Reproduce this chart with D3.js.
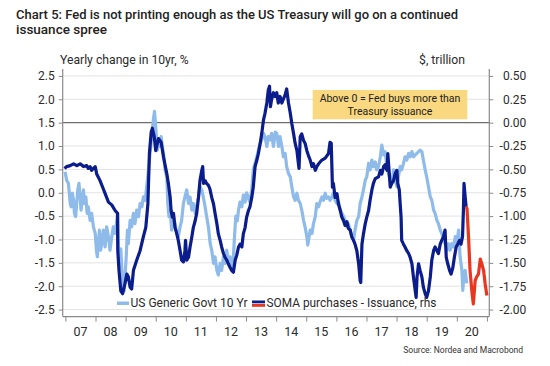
<!DOCTYPE html>
<html>
<head>
<meta charset="utf-8">
<script src="https://cdn.jsdelivr.net/npm/d3@7"></script>
<style>
  html, body { margin: 0; padding: 0; background: #fff; }
  svg { display: block; font-family: Roboto, "Open Sans", sans-serif; }
</style>
</head>
<body>
<svg id="chart" width="550" height="366"></svg>
<script>
// ---------- DATA ----------
const titleLines = ["Chart 5: Fed is not printing enough as the US Treasury will go on a continued", "issuance spree"];
const leftTitle = "Yearly change in 10yr, %";
const rightTitle = "$, trillion";
const sourceText = "Source: Nordea and Macrobond";
const noteLines = ["Above 0 = Fed buys more than", "Treasury issuance"];
const legendLabels = ["US Generic Govt 10 Yr", "SOMA purchases - Issuance, rhs"];

const yearTicks = [2007,2008,2009,2010,2011,2012,2013,2014,2015,2016,2017,2018,2019,2020,2021];
const yearLabels = ["07","08","09","10","11","12","13","14","15","16","17","18","19","20"];
const leftTicks = [2.5,2.0,1.5,1.0,0.5,0.0,-0.5,-1.0,-1.5,-2.0,-2.5];
const rightTicks = [0.5,0.25,0,-0.25,-0.5,-0.75,-1.0,-1.25,-1.5,-1.75,-2.0];

// US Generic Govt 10 Yr, yearly change (%), left axis: [year, value]
const us10y = [
[2006.99,0.45],[2007.04,0.27],[2007.10,0.20],[2007.16,-0.23],[2007.19,-0.30],[2007.23,-0.01],[2007.27,-0.16],[2007.30,-0.44],[2007.34,-0.51],[2007.38,-0.19],[2007.41,0.06],[2007.45,0.20],[2007.49,-0.09],[2007.52,-0.37],[2007.56,-0.16],[2007.60,0.06],[2007.63,-0.23],[2007.68,-0.09],[2007.72,-0.44],[2007.76,-0.30],[2007.82,-0.59],[2007.87,-0.44],[2007.93,-0.73],[2007.99,-0.87],
[2008.03,-1.23],[2008.06,-1.37],[2008.10,-1.01],[2008.13,-0.80],[2008.17,-1.23],[2008.21,-1.09],[2008.26,-0.80],[2008.32,-1.16],[2008.37,-0.73],[2008.43,-0.94],[2008.48,-1.23],[2008.54,-0.94],[2008.59,-0.73],[2008.65,-0.87],[2008.71,-0.59],[2008.74,-0.44],[2008.76,-1.20],[2008.80,-1.60],[2008.84,-1.20],[2008.88,-1.70],[2008.92,-2.00],[2008.95,-2.10],[2008.98,-1.80],
[2009.02,-1.37],[2009.06,-0.80],[2009.09,-1.09],[2009.15,-0.59],[2009.20,-0.73],[2009.26,-0.44],[2009.31,-0.66],[2009.37,-0.37],[2009.43,-0.51],[2009.48,-0.23],[2009.54,-0.30],[2009.59,-0.09],[2009.65,-0.16],[2009.70,0.13],[2009.76,0.49],[2009.81,0.84],[2009.87,1.20],[2009.92,1.56],[2009.96,1.74],
[2010.00,1.41],[2010.05,0.91],[2010.09,1.13],[2010.13,0.99],[2010.18,1.20],[2010.22,0.99],[2010.27,0.77],[2010.31,0.49],[2010.37,0.34],[2010.40,-0.23],[2010.44,-0.51],[2010.48,-0.37],[2010.53,-0.80],[2010.59,-0.51],[2010.64,-0.66],[2010.70,-0.87],[2010.75,-0.94],[2010.81,-0.73],[2010.86,-0.59],[2010.92,-0.23],[2010.97,-0.09],
[2011.03,0.06],[2011.09,-0.23],[2011.14,-0.09],[2011.20,-0.37],[2011.25,-0.23],[2011.31,-0.44],[2011.36,-0.30],[2011.42,-0.09],[2011.47,0.13],[2011.53,0.06],[2011.58,-0.09],[2011.64,-0.30],[2011.69,-0.51],[2011.75,-0.73],[2011.81,-1.09],[2011.86,-1.23],[2011.92,-1.51],[2011.97,-1.37],
[2012.03,-1.66],[2012.08,-1.76],[2012.14,-1.51],[2012.19,-1.66],[2012.25,-1.37],[2012.30,-1.51],[2012.36,-1.23],[2012.41,-1.51],[2012.47,-1.37],[2012.52,-1.59],[2012.58,-1.37],[2012.62,-0.90],[2012.66,-0.50],[2012.71,-0.60],[2012.75,-0.37],[2012.80,-0.20],[2012.86,-0.30],[2012.91,-0.05],[2012.97,-0.20],
[2013.02,0.00],[2013.08,-0.12],[2013.13,-0.20],[2013.19,0.06],[2013.24,0.49],[2013.30,0.63],[2013.36,0.77],[2013.41,0.91],[2013.47,1.06],[2013.52,1.13],[2013.58,1.27],[2013.63,1.20],[2013.69,0.99],[2013.74,1.20],[2013.80,1.13],[2013.85,1.27],[2013.91,0.99],[2013.97,1.30],
[2014.02,1.27],[2014.08,0.99],[2014.13,1.20],[2014.19,0.99],[2014.24,0.77],[2014.30,0.84],[2014.35,0.56],[2014.41,0.41],[2014.47,0.34],[2014.52,0.13],[2014.58,-0.09],[2014.63,-0.16],[2014.69,-0.01],[2014.74,-0.16],[2014.80,-0.23],[2014.85,-0.37],[2014.91,-0.59],[2014.96,-0.73],
[2015.02,-0.94],[2015.05,-1.12],[2015.13,-0.80],[2015.19,-0.87],[2015.24,-0.66],[2015.30,-0.51],[2015.35,-0.23],[2015.41,-0.30],[2015.46,-0.19],[2015.52,-0.09],[2015.57,-0.16],[2015.63,-0.01],[2015.68,-0.12],[2015.74,-0.09],[2015.79,-0.16],[2015.85,-0.09],[2015.90,-0.01],[2015.96,-0.16],
[2016.02,-0.23],[2016.07,-0.19],[2016.13,-0.37],[2016.18,-0.44],[2016.24,-0.51],[2016.29,-0.59],[2016.35,-0.73],[2016.40,-0.66],[2016.46,-0.80],[2016.51,-0.94],[2016.57,-1.01],[2016.62,-0.80],[2016.68,-0.59],[2016.74,-0.51],[2016.79,-0.23],[2016.85,-0.09],[2016.90,0.06],[2016.96,0.27],
[2017.01,0.34],[2017.07,0.63],[2017.12,0.49],[2017.18,0.70],[2017.23,0.56],[2017.29,0.66],[2017.34,0.49],[2017.40,0.56],[2017.46,0.77],[2017.51,1.02],[2017.57,0.81],[2017.62,0.88],[2017.68,0.56],[2017.73,0.41],[2017.79,0.27],[2017.84,0.20],[2017.90,0.49],[2017.95,0.27],
[2018.01,0.13],[2018.06,0.34],[2018.12,0.56],[2018.17,0.49],[2018.23,0.63],[2018.28,0.77],[2018.34,0.70],[2018.40,0.84],[2018.45,0.77],[2018.51,0.88],[2018.56,0.77],[2018.62,0.81],[2018.67,0.84],[2018.73,0.88],[2018.78,0.91],[2018.84,0.88],[2018.89,0.70],[2018.95,0.49],
[2019.00,0.34],[2019.06,0.13],[2019.12,-0.09],[2019.17,-0.16],[2019.23,-0.37],[2019.28,-0.44],[2019.34,-0.59],[2019.39,-0.66],[2019.45,-0.80],[2019.50,-0.87],[2019.56,-1.01],[2019.61,-1.09],[2019.67,-1.23],[2019.72,-1.09],[2019.78,-1.23],[2019.83,-1.09],[2019.89,-1.16],[2019.95,-0.94],
[2020.00,-1.09],[2020.06,-0.80],[2020.11,-1.37],[2020.17,-1.66],[2020.20,-2.09],[2020.23,-1.80],[2020.28,-1.66],[2020.33,-1.94]
];

// SOMA purchases - Issuance ($ trillion), right axis: [year, value]
const somaHist = [
[2006.97,-0.49],[2007.04,-0.47],[2007.16,-0.46],[2007.27,-0.44],[2007.38,-0.46],[2007.49,-0.44],[2007.60,-0.47],[2007.71,-0.46],[2007.76,-0.49],[2007.82,-0.47],[2007.87,-0.51],[2007.93,-0.49],[2007.99,-0.47],
[2008.04,-0.55],[2008.15,-0.62],[2008.26,-0.71],[2008.32,-0.76],[2008.43,-0.85],[2008.54,-0.88],[2008.65,-0.94],[2008.73,-0.97],[2008.74,-1.37],[2008.78,-1.58],[2008.84,-1.80],[2008.90,-1.83],[2008.98,-1.72],
[2009.04,-1.62],[2009.09,-1.65],[2009.15,-1.76],[2009.20,-1.78],[2009.26,-1.58],[2009.37,-1.47],[2009.48,-1.37],[2009.59,-1.22],[2009.67,-1.12],[2009.74,-0.87],[2009.79,-0.33],[2009.85,-0.10],[2009.89,-0.06],[2009.95,-0.15],
[2010.00,-0.30],[2010.09,-0.17],[2010.18,-0.21],[2010.26,-0.37],[2010.37,-0.55],[2010.42,-0.65],[2010.48,-0.80],[2010.51,-0.94],[2010.55,-1.01],[2010.59,-0.97],[2010.64,-1.12],[2010.70,-1.19],[2010.75,-1.26],[2010.81,-1.37],[2010.86,-1.47],[2010.92,-1.49],[2010.97,-1.37],[2010.99,-1.26],
[2011.03,-1.47],[2011.09,-1.44],[2011.14,-1.33],[2011.20,-1.22],[2011.25,-1.12],[2011.31,-1.05],[2011.36,-0.97],[2011.42,-0.80],[2011.47,-0.62],[2011.53,-0.51],[2011.56,-0.47],[2011.59,-0.65],[2011.64,-0.62],[2011.69,-0.65],[2011.75,-0.67],[2011.80,-0.71],[2011.86,-0.80],[2011.92,-0.87],[2011.97,-0.97],
[2012.03,-1.08],[2012.08,-1.19],[2012.14,-1.26],[2012.19,-1.33],[2012.25,-1.40],[2012.30,-1.44],[2012.36,-1.47],[2012.41,-1.51],[2012.47,-1.55],[2012.52,-1.58],[2012.58,-1.60],[2012.64,-1.47],[2012.69,-1.42],[2012.75,-1.33],[2012.80,-1.30],[2012.86,-1.33],[2012.91,-1.19],[2012.97,-1.12],
[2013.02,-1.01],[2013.08,-0.94],[2013.13,-0.90],[2013.19,-0.80],[2013.24,-0.69],[2013.30,-0.47],[2013.36,-0.40],[2013.41,-0.33],[2013.47,-0.22],[2013.52,-0.12],[2013.58,0.03],[2013.63,0.10],[2013.69,0.21],[2013.74,0.35],[2013.78,0.39],[2013.81,0.17],[2013.85,0.25],[2013.91,0.32],[2013.96,0.28],
[2014.02,0.32],[2014.07,0.21],[2014.13,0.28],[2014.19,0.21],[2014.30,0.30],[2014.35,0.36],[2014.41,0.21],[2014.47,0.10],[2014.52,-0.01],[2014.58,-0.12],[2014.63,-0.22],[2014.69,-0.30],[2014.74,-0.44],[2014.76,-0.49],[2014.80,-0.15],[2014.85,-0.12],[2014.91,-0.19],[2014.96,-0.22],
[2015.02,-0.30],[2015.07,-0.35],[2015.13,-0.40],[2015.19,-0.47],[2015.24,-0.44],[2015.30,-0.51],[2015.35,-0.47],[2015.41,-0.44],[2015.52,-0.40],[2015.63,-0.38],[2015.74,-0.33],[2015.79,-0.21],[2015.83,-0.22],[2015.87,-0.69],[2015.90,-0.65],[2015.96,-0.80],
[2016.02,-0.76],[2016.07,-0.87],[2016.13,-0.94],[2016.18,-1.01],[2016.24,-1.05],[2016.29,-1.10],[2016.35,-1.06],[2016.40,-1.13],[2016.46,-1.15],[2016.51,-1.22],[2016.57,-1.26],[2016.62,-1.30],[2016.68,-1.37],[2016.74,-1.51],[2016.79,-1.69],[2016.81,-1.71],[2016.85,-1.30],[2016.90,-1.19],[2016.96,-1.08],
[2017.01,-1.01],[2017.07,-0.94],[2017.12,-0.83],[2017.18,-0.72],[2017.23,-0.65],[2017.29,-0.60],[2017.40,-0.58],[2017.46,-0.51],[2017.51,-0.55],[2017.57,-0.47],[2017.62,-0.45],[2017.68,-0.51],[2017.71,-0.33],[2017.75,-0.51],[2017.79,-0.69],[2017.84,-0.65],[2017.90,-0.62],[2017.95,-0.55],
[2018.01,-0.51],[2018.04,-0.65],[2018.09,-0.72],[2018.12,-0.87],[2018.15,-1.01],[2018.17,-1.26],[2018.23,-1.30],[2018.28,-1.33],[2018.34,-1.37],[2018.40,-1.40],[2018.45,-1.44],[2018.51,-1.51],[2018.56,-1.65],[2018.62,-1.80],[2018.65,-1.87],[2018.68,-1.65],[2018.73,-1.51],[2018.78,-1.58],[2018.84,-1.65],[2018.89,-1.76],[2018.95,-1.83],
[2019.00,-1.87],[2019.06,-1.80],[2019.12,-1.65],[2019.17,-1.47],[2019.23,-1.37],[2019.28,-1.33],[2019.34,-1.37],[2019.39,-1.40],[2019.45,-1.30],[2019.50,-1.26],[2019.56,-1.22],[2019.61,-1.15],[2019.65,-1.44],[2019.70,-1.51],[2019.76,-1.58],[2019.81,-1.62],[2019.87,-1.55],[2019.92,-1.44],[2019.98,-1.33],
[2020.03,-1.30],[2020.09,-1.26],[2020.14,-1.30],[2020.19,-1.22],[2020.22,-0.94],[2020.24,-0.65],[2020.28,-0.80],[2020.31,-0.90]
];
// SOMA purchases - Issuance, projected part (red)
const somaProj = [
[2020.31,-0.90],[2020.34,-0.92],[2020.39,-1.22],[2020.44,-1.58],[2020.50,-1.80],[2020.55,-1.94],[2020.61,-1.69],[2020.66,-1.65],[2020.72,-1.62],[2020.78,-1.46],[2020.83,-1.51],[2020.89,-1.58],[2020.94,-1.72],[2021.00,-1.85]
];

// ---------- CHART ----------
const svg = d3.select("#chart");
const C = { light: "#8ebbe9", dark: "#0b1c8c", red: "#e8361f", text: "#2b2b2b", grid: "#e3e3e3", axis: "#8a8a8a", zero: "#6e6e6e", note: "#f9d880" };

const plot = { left: 62.7, right: 489.3, top: 68.9, bottom: 316.6 };
const x = d3.scaleLinear().domain([2006.91, 2021.08]).range([plot.left, plot.right]);
const yL = d3.scaleLinear().domain([-2.65, 2.65]).range([plot.bottom, plot.top]);
const yR = d3.scaleLinear().domain([-2.075, 0.575]).range([plot.bottom, plot.top]);

// Title
svg.append("g").selectAll("text").data(titleLines).join("text")
  .attr("x", 16).attr("y", (d, i) => 19 + i * 14.5)
  .attr("font-size", 13.5).attr("font-weight", 500).attr("fill", "#222")
  .attr("textLength", (d, i) => i === 0 ? 442 : null)
  .attr("lengthAdjust", "spacingAndGlyphs")
  .text(d => d);

// Axis titles
svg.append("text").attr("x", 60).attr("y", 63.5).attr("font-size", 12.2).attr("fill", C.text).text(leftTitle);
svg.append("text").attr("x", 465).attr("y", 63.5).attr("text-anchor", "end").attr("font-size", 12.2).attr("fill", C.text).text(rightTitle);

// Gridlines
svg.append("g").selectAll("line").data(leftTicks).join("line")
  .attr("x1", plot.left).attr("x2", plot.right)
  .attr("y1", d => yL(d)).attr("y2", d => yL(d))
  .attr("stroke", d => d === 1.5 ? C.zero : C.grid)
  .attr("stroke-width", d => d === 1.5 ? 1.3 : 1);

// Annotation box
const noteG = svg.append("g");
noteG.append("rect").attr("x", 312.7).attr("y", 90).attr("width", 154.6).attr("height", 29.3).attr("fill", C.note);
noteG.selectAll("text").data(noteLines).join("text")
  .attr("x", 390).attr("y", (d, i) => 102 + i * 12.6)
  .attr("text-anchor", "middle").attr("font-size", 10.5).attr("fill", "#222").text(d => d);

// Axes
const fmtL = v => d3.format(".1f")(v).replace("\u2212", "-");
const fmtR = v => d3.format(".2f")(v).replace("\u2212", "-");

const axL = svg.append("g").attr("transform", `translate(${plot.left},0)`)
  .call(d3.axisLeft(yL).tickValues(leftTicks).tickFormat(fmtL).tickSize(4).tickPadding(4));
const axR = svg.append("g").attr("transform", `translate(${plot.right},0)`)
  .call(d3.axisRight(yR).tickValues(rightTicks).tickFormat(fmtR).tickSize(4).tickPadding(5));
const axB = svg.append("g").attr("transform", `translate(0,${plot.bottom})`)
  .call(d3.axisBottom(x).tickValues(yearTicks).tickFormat("").tickSize(5));

[axL, axR, axB].forEach(g => {
  g.select(".domain").attr("stroke", C.axis).attr("stroke-width", 1.2);
  g.selectAll(".tick line").attr("stroke", C.axis);
  g.selectAll(".tick text").attr("fill", C.text).attr("font-size", 12).attr("font-family", "Roboto, sans-serif");
});
axR.selectAll(".tick text").attr("text-anchor", "end").attr("x", 37);
axL.select(".domain").attr("d", `M0,${plot.top}V${plot.bottom}`);
axR.select(".domain").attr("d", `M0,${plot.top}V${plot.bottom}`);
axB.select(".domain").attr("d", `M${plot.left},0H${plot.right}`);

// Year labels (centred in each year)
svg.append("g").selectAll("text").data(yearLabels).join("text")
  .attr("x", (d, i) => x(yearTicks[i] + 0.5)).attr("y", 336)
  .attr("text-anchor", "middle").attr("font-size", 12.5).attr("fill", C.text).text(d => d);

// Lines
const lineL = d3.line().x(d => x(d[0])).y(d => yL(d[1]));
const lineR = d3.line().x(d => x(d[0])).y(d => yR(d[1]));
const lines = svg.append("g").attr("fill", "none").attr("stroke-width", 3.2).attr("stroke-linejoin", "round");
lines.append("path").datum(us10y).attr("d", lineL).attr("stroke", C.light);
lines.append("path").datum(somaHist).attr("d", lineR).attr("stroke", C.dark);
lines.append("path").datum(somaProj).attr("d", lineR).attr("stroke", C.red);

// Legend
const lg = svg.append("g");
lg.append("rect").attr("x", 117).attr("y", 301.5).attr("width", 12).attr("height", 3.5).attr("fill", C.light);
lg.append("text").attr("x", 130.5).attr("y", 307).attr("font-size", 13).attr("fill", C.text)
  .attr("textLength", 117).attr("lengthAdjust", "spacingAndGlyphs").text(legendLabels[0]);
lg.append("rect").attr("x", 252).attr("y", 300.5).attr("width", 13).attr("height", 2.8).attr("fill", C.dark);
lg.append("rect").attr("x", 252).attr("y", 304).attr("width", 13).attr("height", 2.8).attr("fill", C.red);
lg.append("text").attr("x", 266.5).attr("y", 307).attr("font-size", 13).attr("fill", C.text)
  .attr("textLength", 170).attr("lengthAdjust", "spacingAndGlyphs").text(legendLabels[1]);

// Source
svg.append("text").attr("x", 523).attr("y", 352.5).attr("text-anchor", "end")
  .attr("font-size", 8.5).attr("fill", "#333").text(sourceText);
</script>
</body>
</html>
